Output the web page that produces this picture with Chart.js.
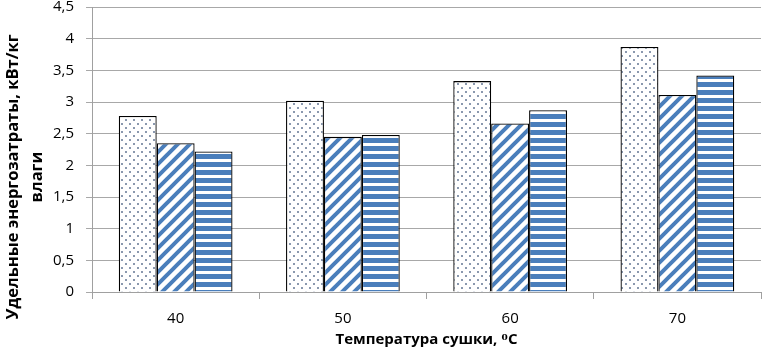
<!DOCTYPE html>
<html>
<head>
<meta charset="utf-8">
<script src="https://cdn.jsdelivr.net/npm/chart.js@4"></script>
<style>
  html, body { margin: 0; padding: 0; background: #fff; }
  #clip { width: 767px; height: 351px; overflow: hidden; position: relative; }
  #wrap { width: 767px; height: 368px; position: absolute; left: 0; top: -14px; }
</style>
</head>
<body>
<div id="clip"><div id="wrap"><canvas id="chart"></canvas></div></div>
<script>
// ── Data ──────────────────────────────────────────────
const temps   = ['40', '50', '60', '70'];
const series1 = [2.78, 3.02, 3.33, 3.87];   // dotted
const series2 = [2.35, 2.45, 2.66, 3.11];   // diagonal hatch
const series3 = [2.22, 2.48, 2.87, 3.42];   // horizontal stripes

const blue = '#4a7ebb';

// ── Pattern fills ─────────────────────────────────────
function makeTile(w, h, draw) {
  const c = document.createElement('canvas');
  c.width = w; c.height = h;
  const g = c.getContext('2d');
  g.fillStyle = '#fff';
  g.fillRect(0, 0, w, h);
  draw(g);
  return document.createElement('canvas').getContext('2d').createPattern(c, 'repeat');
}

const dotFill = makeTile(8, 8, g => {
  g.fillStyle = '#8a98ae';
  g.fillRect(1, 1, 2, 2);
  g.fillRect(5, 5, 2, 2);
});

const diagFill = makeTile(12, 12, g => {
  g.strokeStyle = blue;
  g.lineWidth = 4;
  g.beginPath();
  g.moveTo(-3, 15); g.lineTo(15, -3);
  g.moveTo(-9, 9); g.lineTo(9, -9);
  g.moveTo(3, 21); g.lineTo(21, 3);
  g.stroke();
});

const horizFill = makeTile(8, 8, g => {
  g.fillStyle = blue;
  g.fillRect(0, 0, 8, 5);
});

// ── Y title plugin (canvas is shifted up 14px, so +14 here) ──
const yTitle = {
  id: 'yTitle',
  afterDraw(chart) {
    const ctx = chart.ctx;
    ctx.save();
    ctx.fillStyle = '#000';
    ctx.font = 'bold 16.5px "Open Sans", sans-serif';
    ctx.textAlign = 'center';
    ctx.textBaseline = 'middle';
    ctx.translate(13, 191);
    ctx.rotate(-Math.PI / 2);
    ctx.fillText('Удельные энергозатраты, кВт/кг', 0, 0);
    ctx.fillText('влаги', 0, 24);
    ctx.restore();
  }
};

new Chart(document.getElementById('chart'), {
  type: 'bar',
  data: {
    labels: temps,
    datasets: [
      { data: series1, backgroundColor: dotFill,   borderColor: '#000', borderWidth: 1.3 },
      { data: series2, backgroundColor: diagFill,  borderColor: '#000', borderWidth: 1.3 },
      { data: series3, backgroundColor: horizFill, borderColor: '#000', borderWidth: 1.3 }
    ]
  },
  options: {
    responsive: true,
    maintainAspectRatio: false,
    animation: false,
    layout: { padding: { left: 41, right: 6, top: 0, bottom: 0 } },
    datasets: { bar: { categoryPercentage: 0.68, barPercentage: 1 } },
    plugins: { legend: { display: false }, tooltip: { enabled: false } },
    scales: {
      x: {
        grid: { drawOnChartArea: false, color: '#a0a0a0', tickLength: 7, offset: true },
        border: { color: '#a0a0a0' },
        ticks: { color: '#000', font: { family: 'Open Sans', size: 15 }, padding: 11 },
        title: {
          display: true,
          text: 'Температура сушки, ᴼC',
          color: '#000',
          font: { family: 'Open Sans', size: 15, weight: 'bold' },
          padding: { top: -8, bottom: 5 }
        }
      },
      y: {
        min: 0, max: 4.5,
        ticks: {
          stepSize: 0.5,
          color: '#000',
          font: { family: 'Open Sans', size: 15 },
          padding: 12,
          callback: v => String(v).replace('.', ',')
        },
        grid: { color: '#a8a8a8', tickLength: 6 },
        border: { color: '#a0a0a0' }
      }
    }
  },
  plugins: [yTitle]
});
</script>
</body>
</html>
